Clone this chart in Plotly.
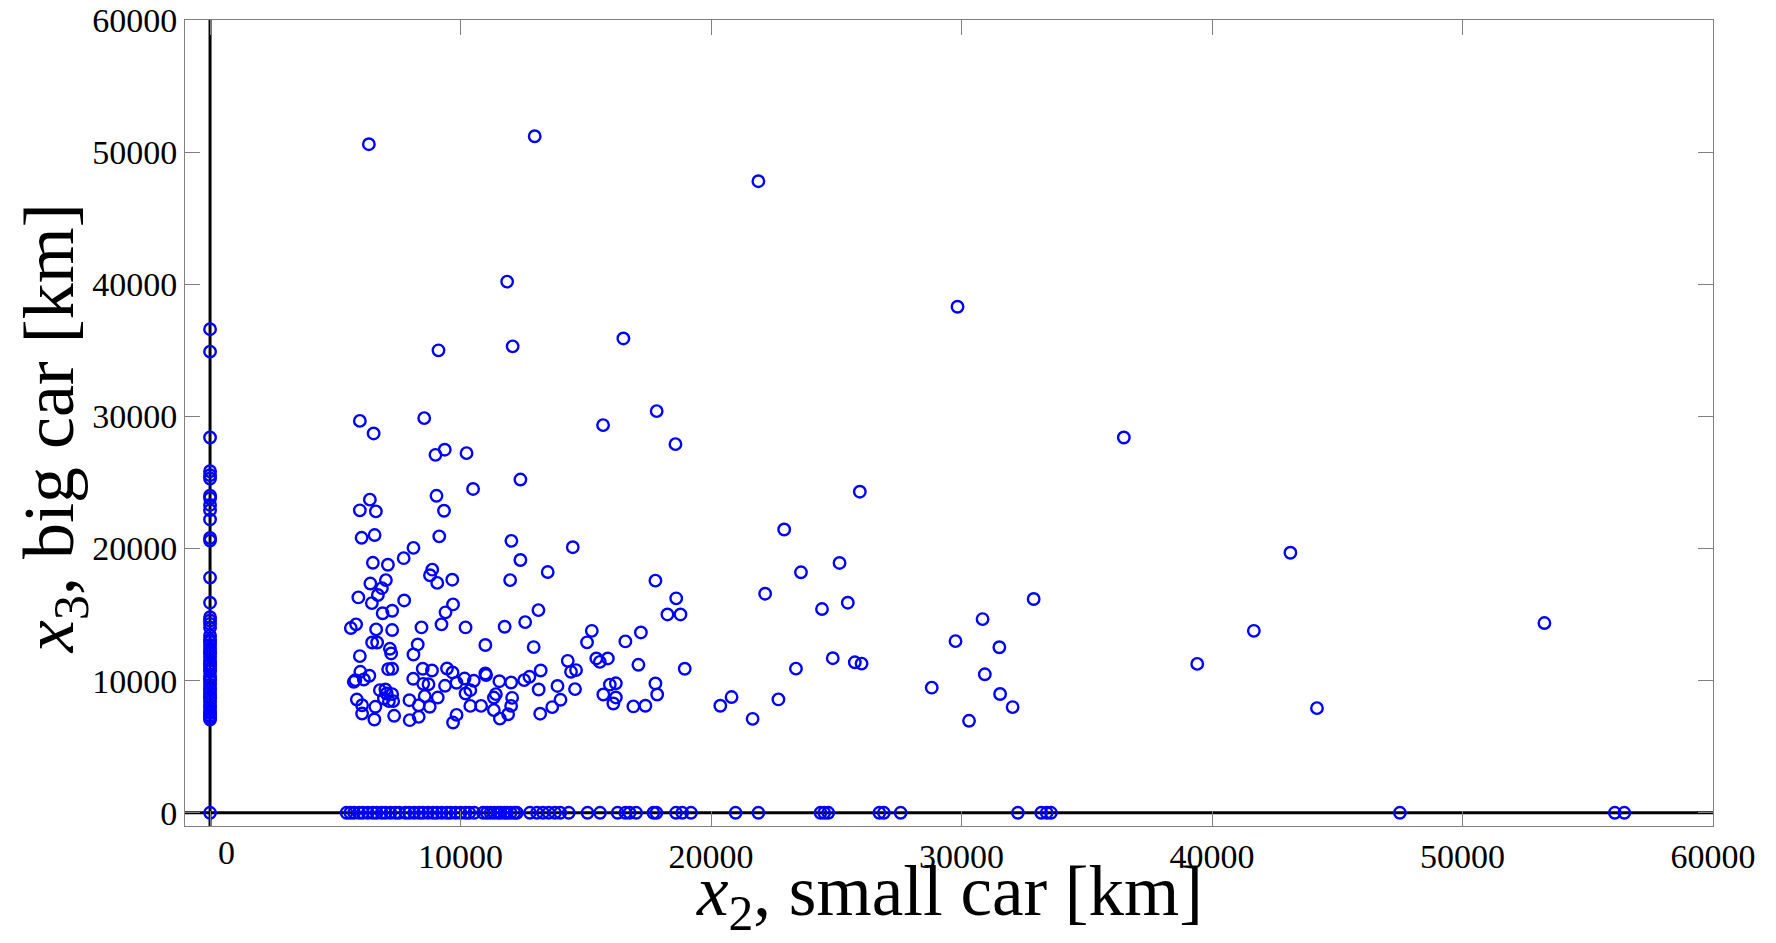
import plotly.graph_objects as go

# ---- data (km) ----
# households using both cars: small car km (x2) and big car km (x3)
small_car_km = [
    6340, 12960, 21890, 11860, 29840, 9120, 12080, 16500, 17830, 18580, 36480, 15690,
    5980, 8550, 6530, 9000, 9370, 10240, 12390, 10500, 25940, 6380, 9040, 5980,
    6620, 9340, 6050, 6570, 9150, 12030, 22920, 8120, 14480, 43130, 7730, 6500,
    7100, 12390, 25130, 8870, 8780, 13480, 23590, 7020, 6400, 9070, 9670, 11980,
    17780, 6860, 22160, 18610, 32880, 6700, 5920, 7750, 25460, 6460, 9700, 7270,
    6890, 9400, 13110, 18260, 18780, 24430, 30840, 12580, 53270, 5830, 9240, 5620,
    6630, 7270, 8440, 10200, 11760, 15240, 17200, 41670, 15050, 16580, 29760, 6470,
    6670, 8290, 10990, 12920, 31510, 7180, 7230, 8120, 5980, 14280, 15420, 15560,
    15880, 17100, 24860, 25740, 26010, 39410, 18950, 23390, 13200, 14410, 14610, 30930,
    6000, 5800, 5740, 6140, 6360, 7110, 7270, 6780, 7000, 7270, 6940, 7140,
    5860, 6070, 6600, 6070, 6560, 7350, 8110, 8490, 8860, 8510, 8720, 7960,
    8330, 8570, 8770, 9090, 9380, 9460, 9680, 9840, 10160, 10200, 10390, 10530,
    10390, 10820, 10990, 11020, 7970, 8330, 9700, 9840, 11330, 11410, 11330, 11570,
    11550, 11900, 12020, 12020, 12060, 12540, 12750, 13120, 13180, 13660, 13870, 13990,
    14570, 15960, 16200, 15700, 16100, 16200, 16900, 17380, 17780, 17850, 20370, 20820,
    22690, 21660, 28810, 31540, 30300, 32040, 44190, 7050, 7310,
]
big_car_km = [
    50600, 51200, 47800, 40200, 38300, 35000, 35300, 35900, 30400, 27900, 28400, 29340,
    29660, 29870, 28710, 27090, 27480, 27220, 25220, 24510, 24300, 23700, 23990, 22890,
    22810, 22860, 20810, 21020, 20920, 20580, 21440, 20050, 20100, 19680, 19270, 18920,
    18770, 19130, 18910, 18400, 17980, 18220, 18200, 17610, 17350, 17400, 17640, 17610,
    17570, 17000, 16580, 16230, 16180, 16480, 16300, 16070, 15900, 15870, 15770, 15290,
    15100, 15170, 15340, 15010, 15010, 15420, 14660, 14430, 14360, 14260, 14260, 13980,
    13880, 13830, 14030, 14030, 14080, 13770, 13650, 13770, 12900, 12970, 12990, 12890,
    12890, 12740, 12700, 12540, 12530, 12410, 12060, 11980, 11860, 11500, 11680, 11420,
    11680, 11200, 11700, 11390, 11290, 11270, 10900, 10910, 10770, 10670, 10800, 10480,
    10670, 10040, 9910, 10090, 10370, 10870, 10900, 9280, 9330, 8980, 8650, 8450,
    8570, 8140, 8020, 7510, 7060, 7340, 10140, 10900, 10770, 9760, 9730, 8520,
    8140, 8830, 8020, 8720, 9610, 10920, 10620, 9840, 10160, 9030, 9280, 9990,
    8090, 8090, 10540, 10420, 7010, 7260, 6830, 7410, 8720, 8980, 7770, 7130,
    9960, 7460, 9860, 8090, 8700, 10040, 10290, 9330, 7500, 8000, 9600, 8550,
    9360, 9700, 9800, 8950, 8270, 8730, 8050, 8100, 9790, 8950, 8100, 8760,
    8580, 7110, 9470, 8990, 6960, 8000, 7920, 9030, 8450,
]

# households with only a big car (x2 = 0): big car km
big_only_km = [
    36600, 34900, 28400, 25850, 25550, 25300, 24000, 23800, 23300, 22900, 22200, 20800,
    20600, 17800, 15900, 14800, 14550, 14300, 14000, 13400, 13100, 12950, 12700, 12450,
    12200, 12050, 11800, 11550, 11300, 11150, 10900, 10700, 10350, 10150, 9950, 9700,
    9450, 9300, 9050, 8800, 8650, 8400, 8150, 7950, 7700, 7550, 7350, 7200, 7050, 0,
]

# households with only a small car (x3 = 0): small car km
small_only_km = [
    5450, 5600, 5750, 5950, 6100, 6300, 6500, 6650, 6850, 7000, 7200, 7400,
    7550, 7800, 7950, 8150, 8350, 8500, 8700, 8900, 9050, 9250, 9450, 9600,
    9800, 10000, 10200, 10350, 10550, 10900, 11050, 11200, 11350, 11500, 11600, 11750,
    11850, 12000, 12150, 12250, 12770, 13050, 13290, 13520, 13770, 13980, 14320, 15070,
    15570, 16270, 16580, 16750, 17010, 17700, 17820, 18600, 18850, 19200, 20980, 21890,
    24370, 24520, 24680, 26720, 26900, 27570, 32250, 33180, 33400, 33570, 47500, 56080,
    56460,
]

x_ticks = [0, 10000, 20000, 30000, 40000, 50000, 60000]
y_ticks = [0, 10000, 20000, 30000, 40000, 50000, 60000]

FONT = "Liberation Serif, Times New Roman, serif"
BLUE = "#0000FF"
GRAY = "#808080"

marker = dict(symbol="circle-open", size=11.5, color=BLUE, line=dict(width=2.4, color=BLUE))

fig = go.Figure()
fig.add_trace(go.Scatter(x=small_car_km, y=big_car_km, mode="markers", marker=marker,
                         showlegend=False, hoverinfo="x+y"))
fig.add_trace(go.Scatter(x=[0] * len(big_only_km), y=big_only_km, mode="markers",
                         marker=marker, showlegend=False, hoverinfo="x+y"))
fig.add_trace(go.Scatter(x=small_only_km, y=[0] * len(small_only_km), mode="markers",
                         marker=marker, showlegend=False, hoverinfo="x+y"))

# black zero lines
fig.add_shape(type="line", xref="x", yref="paper", x0=0, x1=0, y0=0, y1=1,
              line=dict(color="black", width=3), layer="below")
fig.add_shape(type="line", xref="paper", yref="y", x0=0, x1=1, y0=0, y1=0,
              line=dict(color="black", width=3), layer="below")

axis_common = dict(
    showgrid=False, zeroline=False, showline=True, linecolor=GRAY, linewidth=1,
    mirror="ticks", ticks="inside", ticklen=15, tickwidth=1, tickcolor=GRAY,
    tickfont=dict(family=FONT, size=34, color="black"), automargin=False,
    ticklabeloverflow="allow",
)

fig.update_xaxes(range=[-1000, 60000], tickvals=x_ticks,
                 ticktext=[""] + [str(v) for v in x_ticks[1:]], **axis_common)
fig.update_yaxes(range=[-1000, 60000], tickvals=y_ticks,
                 ticktext=[str(v) for v in y_ticks], **axis_common)

# page body adds an 8px offset, so the figure is sized to fit the window
fig.update_layout(
    width=1768, height=935,
    margin=dict(l=177, r=63, t=12, b=117, pad=0),
    paper_bgcolor="white", plot_bgcolor="white",
    font=dict(family=FONT, color="black"),
    annotations=[
        dict(text="0", x=655, xref="x", y=0, yref="paper", yanchor="top", yshift=-6,
             showarrow=False, font=dict(family=FONT, size=34, color="black")),
        dict(text="<i>x</i><sub>2</sub>, small car [km]", x=0.5, xref="paper",
             y=-0.088, yref="paper", xanchor="center", yanchor="middle",
             showarrow=False, font=dict(family=FONT, size=71, color="black")),
        dict(text="<i>x</i><sub>3</sub>, big car [km]", x=-0.086, xref="paper",
             y=0.493, yref="paper", xanchor="center", yanchor="middle", textangle=-90,
             showarrow=False, font=dict(family=FONT, size=72, color="black")),
    ],
)

fig.write_html("out.html")
